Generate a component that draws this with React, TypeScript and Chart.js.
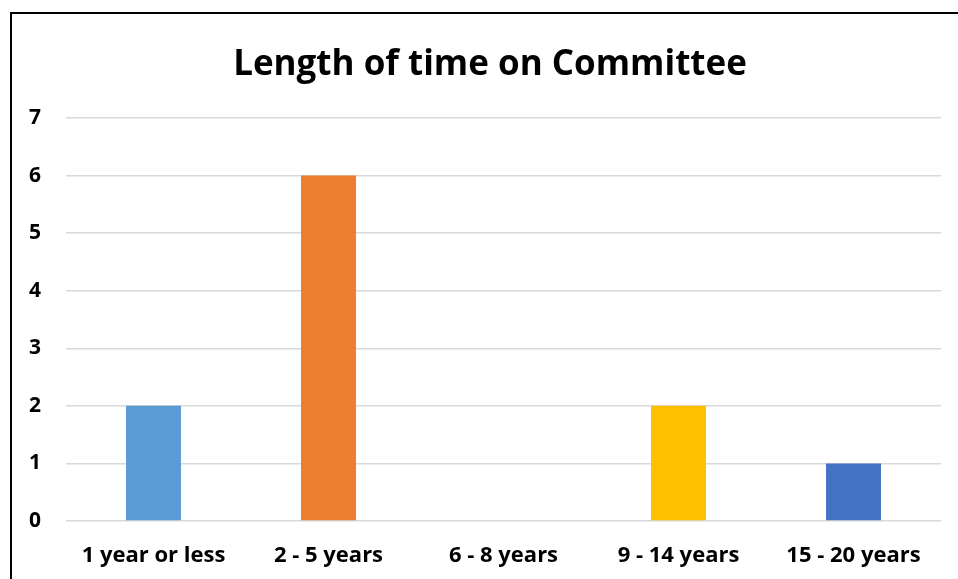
import React, { useEffect, useRef } from "react";
import { Chart, registerables } from "chart.js";

Chart.register(...registerables);

const categories = ["1 year or less", "2 - 5 years", "6 - 8 years", "9 - 14 years", "15 - 20 years"];
const values = [2, 6, 0, 2, 1];
const barColors = ["#5B9BD5", "#ED7D31", "#A5A5A5", "#FFC000", "#4472C4"];
const titleText = "Length of time on Committee";
const FONT = "'Open Sans', 'Liberation Sans', sans-serif";

const shiftTitle = {
  id: "shiftTitle",
  afterLayout(c: any) {
    const t = c.titleBlock;
    if (t) {
      t.left += 13.5;
      t.right += 13.5;
    }
  },
};

export default function App() {
  const ref = useRef<HTMLCanvasElement | null>(null);
  useEffect(() => {
    if (!ref.current) return;
    const chart = new Chart(ref.current, {
      type: "bar",
      data: {
        labels: categories,
        datasets: [
          {
            data: values,
            backgroundColor: barColors,
            barPercentage: 0.314,
            categoryPercentage: 1,
          },
        ],
      },
      options: {
        animation: false,
        responsive: false,
        layout: { padding: { left: 0, right: 17, top: 0, bottom: 0 } },
        plugins: {
          legend: { display: false },
          tooltip: { enabled: false },
          title: {
            display: true,
            text: titleText,
            color: "#000",
            font: { family: FONT, size: 35, weight: "bold" },
            padding: { top: 30, bottom: 32 },
          },
        },
        scales: {
          x: {
            grid: { display: false, drawTicks: false },
            border: { display: false },
            ticks: {
              color: "#000",
              font: { family: FONT, size: 22, weight: "bold" },
              padding: 22,
              maxRotation: 0,
            },
            afterFit: (s: any) => {
              s.height = 58;
            },
          },
          y: {
            min: 0,
            max: 7,
            grid: { color: "#d9d9d9", lineWidth: 1.5, drawTicks: false },
            border: { display: false },
            ticks: {
              stepSize: 1,
              color: "#000",
              font: { family: FONT, size: 21, weight: "bold" },
              padding: 25,
            },
            afterFit: (s: any) => {
              s.width = 54;
            },
          },
        },
      },
      plugins: [shiftTitle],
    });
    return () => chart.destroy();
  }, []);
  return (
    <div
      style={{
        position: "fixed",
        left: 10,
        top: 12,
        width: 960,
        height: 580,
        borderLeft: "2px solid #000",
        borderTop: "2px solid #000",
        background: "#fff",
        overflow: "hidden",
      }}
    >
      <canvas ref={ref} width={946} height={565} style={{ display: "block" }} />
    </div>
  );
}
